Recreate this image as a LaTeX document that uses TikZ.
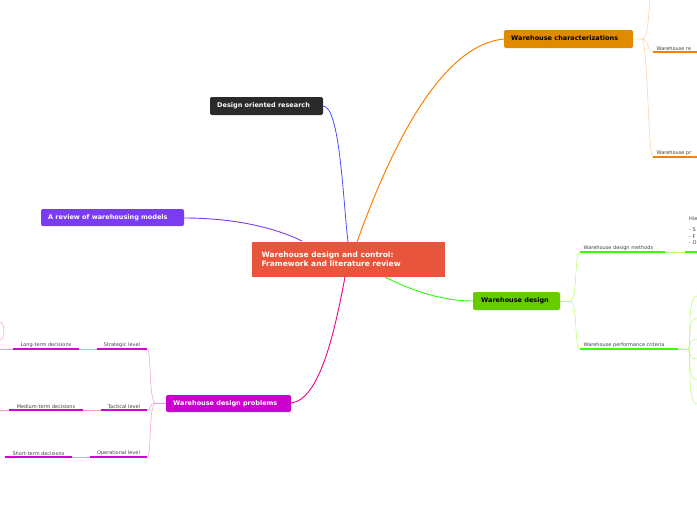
\documentclass[tikz,border=0pt]{standalone}
\usepackage{fontspec}
\setmainfont{DejaVu Sans}
\begin{document}
\begin{tikzpicture}[x=1pt,y=-1pt,
 main/.style={rounded corners=2pt,font=\bfseries\fontsize{6.5}{7}\selectfont,text=white,inner sep=0pt,anchor=north west},
 lab/.style={font=\fontsize{5}{5.5}\selectfont,text=black!75,anchor=south,inner sep=1.5pt},
 ul/.style={line width=1.6pt},
 thin/.style={line width=0.5pt}]
\useasboundingbox (0,0) rectangle (697,520);
\clip (0,0) rectangle (697,520);
\definecolor{cred}{HTML}{E8553C}\definecolor{corange}{HTML}{E08A00}
\definecolor{cpurp}{HTML}{7A3CF0}\definecolor{cgreen}{HTML}{66CC00}
\definecolor{cmag}{HTML}{CC00CC}\definecolor{cgray}{HTML}{2A2A2A}
% center
\fill[cred] (252,242) rectangle (445,277);
\node[anchor=west,align=left,text=white,font=\bfseries\fontsize{7.5}{9}\selectfont] (c) at (258,259.5) {Warehouse design and control:\\Framework and literature review};
% main nodes
\fill[cgray,rounded corners=2pt] (210,97) rectangle (323,115);
\node[main] (dor) at (217,102) {Design oriented research};
\fill[corange,rounded corners=2pt] (504,30) rectangle (633,48);
\node[main,text=black] (wc) at (511,35) {Warehouse characterizations};
\fill[cpurp,rounded corners=2pt] (41,209) rectangle (184,226);
\node[main] (rev) at (48,214) {A review of warehousing models};
\fill[cgreen,rounded corners=2pt] (473,292) rectangle (560,310);
\node[main,text=black] (wd) at (481,297) {Warehouse design};
\fill[cmag,rounded corners=2pt] (166,395) rectangle (291,412);
\node[main] (wdp) at (173,400) {Warehouse design problems};
% main connectors
\draw[blue!70,line width=0.8pt] (323,106) .. controls (340,106) and (343,200) .. (348,242);
\draw[orange,line width=1pt] (357,242) .. controls (390,150) and (440,45) .. (504,39);
\draw[cpurp,line width=0.9pt] (184,218) .. controls (240,218) and (280,230) .. (302,241);
\draw[green!80!lime,line width=0.9pt] (385,277) .. controls (420,295) and (450,301) .. (473,301);
\draw[magenta,line width=0.9pt] (291,403) .. controls (320,400) and (335,330) .. (345,277);
% orange subtree
\draw[orange!40,thin] (633,39) -- (642,39) .. controls (648,39) and (648,20) .. (650,0);
\draw[orange!40,thin] (642,39) .. controls (648,39) and (648,52) .. (653,52);
\draw[orange!40,thin] (642,39) .. controls (648,45) and (648,157) .. (653,157);
\draw[orange,ul] (653,52) -- (697,52);
\node[lab,anchor=south west] at (655,52) {Warehouse re};
\draw[orange,ul] (653,157) -- (697,157);
\node[lab,anchor=south west] at (655,157) {Warehouse pr};
% green subtree
\draw[green!50!yellow!60,thin] (560,301) -- (570,301);
\draw[green!50!yellow!60,thin] (570,301) .. controls (578,301) and (574,252) .. (580,252);
\draw[green!50!yellow!60,thin] (570,301) .. controls (578,301) and (574,349) .. (580,349);
\draw[green!70!lime,ul] (580,252) -- (665,252);
\node[lab,anchor=south west] at (582,252) {Warehouse design methods};
\draw[green!50!yellow!60,thin] (665,252) -- (685,252);
\draw[green!70!lime,ul] (685,252) -- (697,252);
\node[font=\fontsize{5}{6.5}\selectfont,text=black!75,anchor=north west,align=left,inner sep=0pt] at (689,216) {Hie\\[5pt]- S\\- F\\- O};
\draw[green!70!lime,ul] (580,349) -- (678,349);
\node[lab,anchor=south west] at (582,349) {Warehouse performance criteria};
\draw[green!50!yellow!60,thin] (678,349) -- (688,349);
\foreach \y in {296,318,339,359,380,404}
 \draw[green!50!yellow!60,thin] (688,349) .. controls (692,349) and (686,\y) .. (697,\y);
% magenta subtree
\draw[magenta!40,thin] (166,403) -- (156,403);
\foreach \y in {349,410,457}
 \draw[magenta!40,thin] (156,403) .. controls (148,403) and (152,\y) .. (147,\y);
\draw[cmag!80!magenta,ul] (97,349) -- (147,349);
\node[lab] at (122,349) {Strategic level};
\draw[cmag!80!magenta,ul] (101,410) -- (147,410);
\node[lab] at (124,410) {Tactical level};
\draw[cmag!80!magenta,ul] (90,457) -- (147,457);
\node[lab] at (118.5,457) {Operational level};
\draw[magenta!40,thin] (79,349) -- (97,349);
\draw[cmag!80!magenta,ul] (13,349) -- (79,349);
\node[lab] at (46,349) {Long-term decisions};
\draw[magenta!40,thin] (0,349) -- (13,349);
\draw[magenta!40,thin] (0,340) arc (90:-90:4 and 9);
\draw[magenta!40,thin] (83,410) -- (101,410);
\draw[cmag!80!magenta,ul] (9,410) -- (83,410);
\node[lab] at (46,410) {Medium-term decisions};
\draw[magenta!40,thin] (0,410) -- (9,410);
\draw[magenta!40,thin] (72,457) -- (90,457);
\draw[cmag!80!magenta,ul] (5,457) -- (72,457);
\node[lab] at (38.5,457) {Short-term decisions};
\end{tikzpicture}
\end{document}
